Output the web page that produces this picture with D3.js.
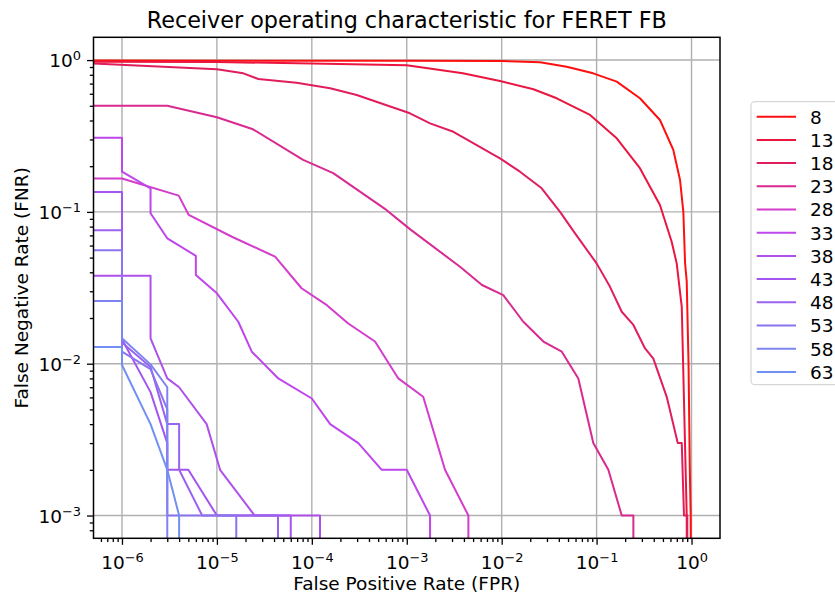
<!DOCTYPE html>
<html>
<head>
<meta charset="utf-8">
<script src="https://cdn.jsdelivr.net/npm/d3@7"></script>
<style>
  body { margin: 0; background: #fff; }
  text { font-family: "DejaVu Sans", sans-serif; fill: #000; }
</style>
</head>
<body>
<div id="chart"></div>
<script>
// Data: [FPR, FNR] pairs (0 = curve runs off the axes)

const seriesNames = ["8", "13", "18", "23", "28", "33", "38", "43", "48", "53", "58", "63"];

const roc8 = [[0, 0.995], [1e-3, 0.99], [1e-2, 0.985], [0.0254, 0.967], [0.0484, 0.904], [0.092, 0.818],
  [0.163, 0.721], [0.286, 0.56], [0.465, 0.403], [0.643, 0.256], [0.757, 0.162], [0.82, 0.1],
  [0.855, 0.046], [0.89, 0.035], [0.93, 0.01], [0.96, 0.002], [0.98, 0.001], [1.0, 0]];
const roc13 = [[0, 0.99], [1e-5, 0.97], [1e-4, 0.95], [1e-3, 0.925], [0.0039, 0.818], [0.0096, 0.728],
  [0.0216, 0.642], [0.038, 0.56], [0.0853, 0.435], [0.163, 0.305], [0.286, 0.194], [0.465, 0.111],
  [0.618, 0.0636], [0.698, 0.0458], [0.789, 0.0237], [0.89, 0.001], [0.91, 0]];
const roc18 = [[0, 0.952], [5e-7, 0.95], [1e-5, 0.869], [1.9e-5, 0.818], [2.73e-5, 0.75], [6.9e-5, 0.71],
  [1.56e-4, 0.652], [2.97e-4, 0.589], [1.08e-3, 0.446], [1.76e-3, 0.383], [3.1e-3, 0.337], [9.6e-3, 0.225],
  [0.0156, 0.184], [0.0264, 0.143], [0.0412, 0.1], [0.0593, 0.0722], [0.1, 0.0458], [0.138, 0.0322],
  [0.184, 0.022], [0.244, 0.018], [0.324, 0.0126], [0.396, 0.0108], [0.548, 0.00605], [0.716, 0.003],
  [0.789, 0.003], [0.833, 0.001], [0.903, 0.001], [0.903, 0]];
const roc23 = [[0, 0.5], [3e-6, 0.5], [1e-5, 0.42], [2.4e-5, 0.35], [8.1e-5, 0.22], [1.68e-4, 0.18],
  [6.1e-4, 0.103], [1.08e-3, 0.077], [3.64e-3, 0.0435], [6.2e-3, 0.033], [0.0104, 0.0283], [0.0169, 0.0189],
  [0.0275, 0.014], [0.043, 0.012], [0.0642, 0.008], [0.0923, 0.003], [0.133, 0.002], [0.184, 0.001],
  [0.244, 0.001], [0.244, 0]];
const roc28 = [[0, 0.166], [1e-6, 0.166], [3.96e-6, 0.128], [5.05e-6, 0.0955], [1.44e-5, 0.0686],
  [4.1e-5, 0.0507], [7.8e-5, 0.0314], [1.44e-4, 0.0243], [2.42e-4, 0.0184], [4.63e-4, 0.014],
  [8.15e-4, 0.008], [1.49e-3, 0.00606], [2.53e-3, 0.002], [4.46e-3, 0.001], [4.46e-3, 0]];
const roc33 = [[0, 0.308], [1e-6, 0.308], [1e-6, 0.184], [2e-6, 0.143], [2e-6, 0.098], [3e-6, 0.067],
  [6e-6, 0.0514], [6e-6, 0.0384], [1e-5, 0.0291], [1.68e-5, 0.0189], [2.33e-5, 0.012], [4.43e-5, 0.008],
  [1e-4, 0.0059], [1.56e-4, 0.004], [3.09e-4, 0.003], [5.45e-4, 0.002], [1e-3, 0.002], [1.76e-3, 0.001],
  [1.76e-3, 0]];
const roc38 = [[0, 0.038], [2e-6, 0.038], [2e-6, 0.0147], [3e-6, 0.008], [4e-6, 0.007], [7.8e-6, 0.004],
  [1.08e-5, 0.002], [2.5e-5, 0.001], [1.22e-4, 0.001], [1.22e-4, 0]];
const roc43 = [[0, 0.135], [1e-6, 0.135], [1e-6, 0.0145], [2e-6, 0.0065], [3e-6, 0.003], [3e-6, 0.002],
  [5e-6, 0.002], [1e-5, 0.001], [6e-5, 0.001], [6e-5, 0]];
const roc48 = [[0, 0.0756], [1e-6, 0.0756], [1e-6, 0.0138], [2e-6, 0.0095], [3e-6, 0.004], [4e-6, 0.004],
  [4e-6, 0.002], [7e-6, 0.001], [4.4e-5, 0.001], [4.4e-5, 0]];
const roc53 = [[0, 0.0558], [1e-6, 0.0558], [1e-6, 0.012], [2e-6, 0.0092], [3e-6, 0.005], [3e-6, 0.001],
  [1.6e-5, 0.001], [1.6e-5, 0]];
const roc58 = [[0, 0.0259], [1e-6, 0.0259], [1e-6, 0.0147], [2e-6, 0.0099], [3e-6, 0.007], [3e-6, 0]];
const roc63 = [[0, 0.0129], [1e-6, 0.0129], [1e-6, 0.0098], [2e-6, 0.004], [3e-6, 0.002], [4e-6, 0.001],
  [4e-6, 0]];

const rocCurves = [roc8, roc13, roc18, roc23, roc28, roc33, roc38, roc43, roc48, roc53, roc58, roc63];

const xTickExponents = [-6, -5, -4, -3, -2, -1, 0];
const yTickExponents = [0, -1, -2, -3];

const seriesColors = ["#ff1010", "#ea1640", "#e01e5c", "#d82a90", "#d43ccc", "#bf45ec",
  "#b050ea", "#a455f0", "#9a62f0", "#8c74f0", "#7e84f2", "#7290f4"];

// Core chart

const width = 835;
const height = 596;
const margin = { top: 37.3, right: 115, bottom: 57.7, left: 93.5 };
const fontSize = 18.5;

const svg = d3.select("#chart").append("svg").attr("width", width).attr("height", height);

const xScale = d3.scaleLog()
  .domain([10 ** -6.3, 10 ** 0.3])
  .range([margin.left, width - margin.right]);

const yScale = d3.scaleLog()
  .domain([10 ** -3.15, 10 ** 0.15])
  .range([height - margin.bottom, margin.top]);

// zeros cannot sit on a log axis, push them far outside the clip box
const xFloor = 1e-9;
const yFloor = 1e-5;

const minorTicks = (scale) => {
  const [lo, hi] = scale.domain();
  const out = [];
  for (let e = Math.floor(Math.log10(lo)); e <= Math.ceil(Math.log10(hi)); e++) {
    for (let m = 2; m <= 9; m++) {
      const v = m * 10 ** e;
      if (v >= lo && v <= hi) out.push(v);
    }
  }
  return out;
};

svg.append("defs").append("clipPath").attr("id", "plot-clip")
  .append("rect")
  .attr("x", margin.left).attr("y", margin.top)
  .attr("width", width - margin.left - margin.right)
  .attr("height", height - margin.top - margin.bottom);

// Grid

const grid = svg.append("g").attr("stroke", "#b0b0b0").attr("stroke-width", 1.4);
grid.selectAll(".gx").data(xTickExponents).enter().append("line")
  .attr("x1", (e) => xScale(10 ** e)).attr("x2", (e) => xScale(10 ** e))
  .attr("y1", margin.top).attr("y2", height - margin.bottom);
grid.selectAll(".gy").data(yTickExponents).enter().append("line")
  .attr("y1", (e) => yScale(10 ** e)).attr("y2", (e) => yScale(10 ** e))
  .attr("x1", margin.left).attr("x2", width - margin.right);

// Curves

const line = d3.line()
  .x((d) => xScale(Math.max(d[0], xFloor)))
  .y((d) => yScale(Math.max(d[1], yFloor)));

svg.append("g").attr("clip-path", "url(#plot-clip)")
  .selectAll("path")
  .data(rocCurves)
  .enter()
  .append("path")
  .attr("fill", "none")
  .attr("stroke", (d, i) => seriesColors[i])
  .attr("stroke-width", 2)
  .attr("stroke-linejoin", "round")
  .attr("d", line);

// Axis

const supLabel = function (e) {
  const t = d3.select(this).text(null);
  t.append("tspan").text("10");
  t.append("tspan").attr("dy", "-0.55em").attr("font-size", "0.7em")
    .text(e < 0 ? "\u2212" + Math.abs(e) : String(e));
};

const xAxisG = svg.append("g").attr("transform", `translate(0, ${height - margin.bottom})`);
xAxisG.append("g")
  .call(d3.axisBottom(xScale).tickValues(minorTicks(xScale)).tickSize(3.7).tickSizeOuter(0).tickFormat(""))
  .call((g) => g.select(".domain").remove());
xAxisG.append("g")
  .call(d3.axisBottom(xScale).tickValues(xTickExponents.map((e) => 10 ** e)).tickSize(6.5).tickSizeOuter(0))
  .call((g) => g.select(".domain").remove())
  .call((g) => g.selectAll(".tick text")
    .attr("y", 30.5).attr("dy", 0).attr("font-size", fontSize)
    .each(function (d) { supLabel.call(this, Math.round(Math.log10(d))); }));

const yAxisG = svg.append("g").attr("transform", `translate(${margin.left}, 0)`);
yAxisG.append("g")
  .call(d3.axisLeft(yScale).tickValues(minorTicks(yScale)).tickSize(3.7).tickSizeOuter(0).tickFormat(""))
  .call((g) => g.select(".domain").remove());
yAxisG.append("g")
  .call(d3.axisLeft(yScale).tickValues(yTickExponents.map((e) => 10 ** e)).tickSize(6.5).tickSizeOuter(0))
  .call((g) => g.select(".domain").remove())
  .call((g) => g.selectAll(".tick text")
    .attr("x", -12.5).attr("dy", 6.8).attr("font-size", fontSize)
    .each(function (d) { supLabel.call(this, Math.round(Math.log10(d))); }));

svg.selectAll(".tick line").attr("stroke", "#000").attr("stroke-width", 1.3);

svg.append("rect")
  .attr("x", margin.left).attr("y", margin.top)
  .attr("width", width - margin.left - margin.right)
  .attr("height", height - margin.top - margin.bottom)
  .attr("fill", "none").attr("stroke", "#000").attr("stroke-width", 1.5);

// Titles

svg.append("text")
  .attr("x", (margin.left + width - margin.right) / 2).attr("y", 28)
  .attr("text-anchor", "middle").attr("font-size", 22.3)
  .text("Receiver operating characteristic for FERET FB");

svg.append("text")
  .attr("x", (margin.left + width - margin.right) / 2).attr("y", 590)
  .attr("text-anchor", "middle").attr("font-size", fontSize)
  .text("False Positive Rate (FPR)");

svg.append("text")
  .attr("transform", `translate(28, ${(margin.top + height - margin.bottom) / 2}) rotate(-90)`)
  .attr("text-anchor", "middle").attr("font-size", fontSize)
  .text("False Negative Rate (FNR)");

// Legend

const legend = svg.append("g");
legend.append("rect")
  .attr("x", 751).attr("y", 101.7).attr("width", 110).attr("height", 283)
  .attr("rx", 4).attr("fill", "#fff").attr("stroke", "#d6d6d6").attr("stroke-width", 1.2);

const items = legend.selectAll(".item").data(seriesNames).enter().append("g")
  .attr("transform", (d, i) => `translate(0, ${116.7 + i * 23.2})`);
items.append("line")
  .attr("x1", 756.7).attr("x2", 796)
  .attr("stroke", (d, i) => seriesColors[i]).attr("stroke-width", 2);
items.append("text")
  .attr("x", 810).attr("y", 6.8).attr("font-size", fontSize)
  .text((d) => d);
</script>
</body>
</html>
